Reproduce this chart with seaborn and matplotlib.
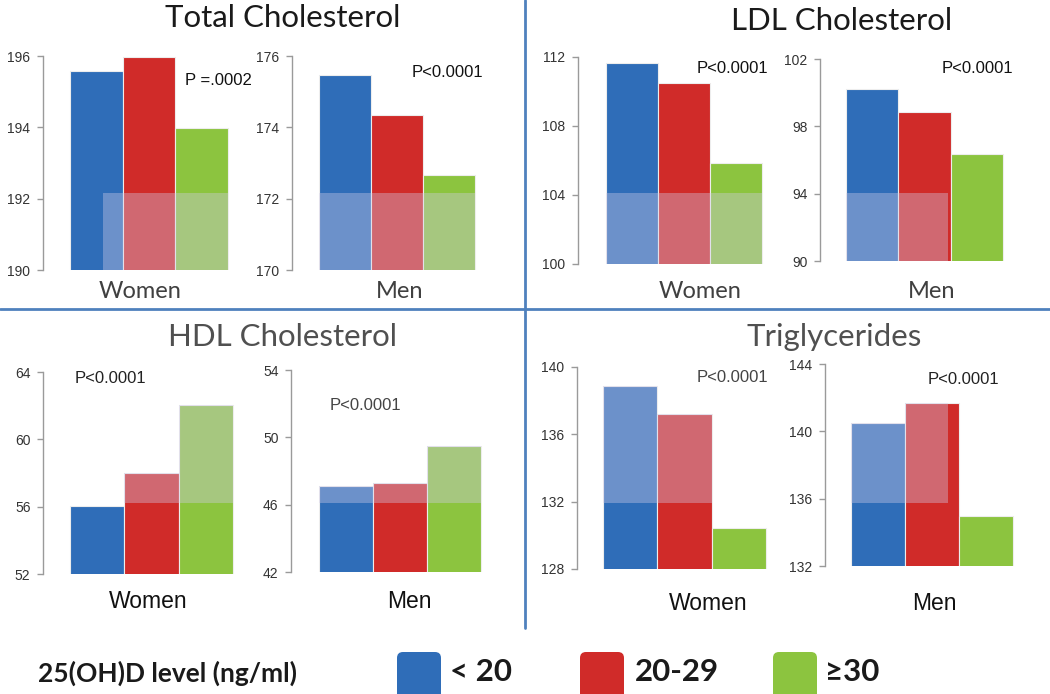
import matplotlib
matplotlib.use("Agg")
import matplotlib.pyplot as plt
from matplotlib.patches import FancyBboxPatch, Rectangle
from matplotlib.transforms import Affine2D
import seaborn as sns
import pandas as pd

# ---------------- data ----------------
levels = ["< 20", "20-29", "≥30"]
level_colors = ["#2F6DB8", "#D02B29", "#8CC43F"]

total_women = [195.58, 195.96, 193.97]
total_men = [175.46, 174.35, 172.67]
ldl_women = [111.65, 110.50, 105.84]
ldl_men = [100.24, 98.84, 96.35]
hdl_women = [56.01, 57.99, 62.03]
hdl_men = [47.10, 47.26, 49.48]
tg_women = [138.85, 137.19, 130.43]
tg_men = [140.47, 141.71, 134.96]

total_women_ticks = [190, 192, 194, 196]
total_men_ticks = [170, 172, 174, 176]
ldl_women_ticks = [100, 104, 108, 112]
ldl_men_ticks = [90, 94, 98, 102]
hdl_women_ticks = [52, 56, 60, 64]
hdl_men_ticks = [42, 46, 50, 54]
tg_women_ticks = [128, 132, 136, 140]
tg_men_ticks = [132, 136, 140, 144]

panel_titles = ["Total Cholesterol", "LDL Cholesterol", "HDL Cholesterol", "Triglycerides"]
sexes = ["Women", "Men"]
p_values = ["P =.0002", "P<0.0001", "P<0.0001", "P<0.0001",
            "P<0.0001", "P<0.0001", "P<0.0001", "P<0.0001"]
legend_title = "25(OH)D level (ng/ml)"

# ---------------- figure ----------------
W, H = 1050, 694
sns.set_style("white")
plt.rcParams["font.family"] = ["Liberation Sans", "DejaVu Sans"]
fig = plt.figure(figsize=(W / 100, H / 100), dpi=100)
fig.patch.set_facecolor("white")

# pixel -> display transform (figure saved at the same dpi)
px = Affine2D().scale(1, -1).translate(0, H)

# layout in pixels: spine_x, bar_left, bar_right, y_top, y_bottom
layout = [
    (43, 70, 228, 56, 270),
    (292, 319, 475, 56, 270),
    (578, 606, 762, 57, 264),
    (820, 846, 1003, 59, 261),
    (43, 70, 233, 372, 574),
    (291, 319, 481, 370, 572),
    (577, 603, 766, 367, 569),
    (825, 851, 1013, 364, 566),
]
# translucent watermark band over the bars (pixels: x0, x1, y0, y1)
bands = [
    (103, 228, 193, 270),
    (319, 475, 193, 270),
    (606, 762, 193, 264),
    (846, 948, 193, 261),
    (70, 482, 300, 503),
    (70, 482, 300, 503),
    (603, 948, 300, 503),
    (603, 948, 300, 503),
]
series = [total_women, total_men, ldl_women, ldl_men,
          hdl_women, hdl_men, tg_women, tg_men]
ticks = [total_women_ticks, total_men_ticks, ldl_women_ticks, ldl_men_ticks,
         hdl_women_ticks, hdl_men_ticks, tg_women_ticks, tg_men_ticks]

for (sx, bl, br, yt, yb), vals, tk, band in zip(layout, series, ticks, bands):
    right_px = br + 8
    ax = fig.add_axes([sx / W, 1 - yb / H, (right_px - sx) / W, (yb - yt) / H])
    df = pd.DataFrame({"level": levels, "value": vals})
    sns.barplot(data=df, x="level", y="value", hue="level", palette=level_colors,
                width=1.0, legend=False, ax=ax, edgecolor="#EDEDED", linewidth=0.8,
                saturation=1)
    bw = (br - bl) / 3
    ax.set_xlim(-0.5 - (bl - sx) / bw, 2.5 + 8 / bw)
    ax.set_ylim(tk[0], tk[-1])
    ax.set_yticks(tk)
    ax.set_yticklabels([str(t) for t in tk])
    ax.set_xticks([])
    ax.set_xlabel("")
    ax.set_ylabel("")
    for s in ["top", "right", "bottom"]:
        ax.spines[s].set_visible(False)
    ax.spines["left"].set_color("#9A9A9A")
    ax.spines["left"].set_linewidth(1.0)
    ax.tick_params(axis="y", left=True, length=4, width=1.0, color="#9A9A9A",
                   labelsize=10, labelcolor="#333333", pad=5)
    ax.patch.set_alpha(0)
    # watermark band, clipped to each bar
    x0, x1, y0, y1 = band
    for bar in list(ax.patches):
        r = Rectangle((x0, y0), x1 - x0, y1 - y0, transform=px,
                      facecolor="#D2CDE8", alpha=0.38, edgecolor="none", zorder=5)
        ax.add_artist(r)
        r.set_clip_path(bar)

# overlay axis in pixel coordinates for annotations
ov = fig.add_axes([0, 0, 1, 1], zorder=10)
ov.set_xlim(0, W)
ov.set_ylim(H, 0)
ov.axis("off")
ov.patch.set_alpha(0)

# dividers
div_c = "#4F81BD"
ov.plot([525, 525], [0, 628], color=div_c, lw=2)
ov.plot([0, W], [309, 309], color=div_c, lw=2)

# panel titles
title_pos = [(283, 18, "#1A1A1A"), (842, 21, "#1A1A1A"),
             (282, 337, "#505050"), (834, 337, "#505050")]
for (x, y, c), t in zip(title_pos, panel_titles):
    ov.text(x, y, t, ha="center", va="center", fontsize=22.5, color=c,
            family=["Lato", "DejaVu Sans"])

# category labels
cat_pos = [(140, 291), (400, 291), (700, 291), (932, 291),
           (148, 602), (409, 602), (708, 603), (934, 603)]
for i, (x, y) in enumerate(cat_pos):
    top = i < 4
    ov.text(x, y, sexes[i % 2], ha="center", va="center",
            fontsize=17 if top else 16.5,
            color="#404040" if top else "#111111",
            family=["Lato", "DejaVu Sans"] if top else ["Liberation Sans", "DejaVu Sans"])

# p values
p_pos = [(185, 80, "#111111"), (412, 72, "#111111"), (697, 68, "#111111"), (942, 68, "#111111"),
         (75, 378, "#222222"), (330, 405, "#444444"), (697, 377, "#444444"), (928, 379, "#222222")]
for (x, y, c), p in zip(p_pos, p_values):
    ov.text(x, y, p, ha="left", va="center", fontsize=12, color=c,
            family=["Liberation Sans", "DejaVu Sans"])

# legend
ov.text(38, 673, legend_title, ha="left", va="center", fontsize=19,
        fontweight="bold", color="#1A1A1A", family=["Lato", "DejaVu Sans"])
sq_x = [397, 580, 773]
lab_x = [450, 635, 825]
for sx, lx, c, lab in zip(sq_x, lab_x, level_colors, levels):
    ov.add_patch(FancyBboxPatch((sx + 4, 656), 36, 40,
                                boxstyle="round,pad=4,rounding_size=6",
                                facecolor=c, edgecolor="none"))
    ov.text(lx, 672, lab, ha="left", va="center", fontsize=22.5, fontweight="bold",
            color="#1A1A1A", family=["Lato", "DejaVu Sans"])

fig.savefig("out.png", dpi=100)
